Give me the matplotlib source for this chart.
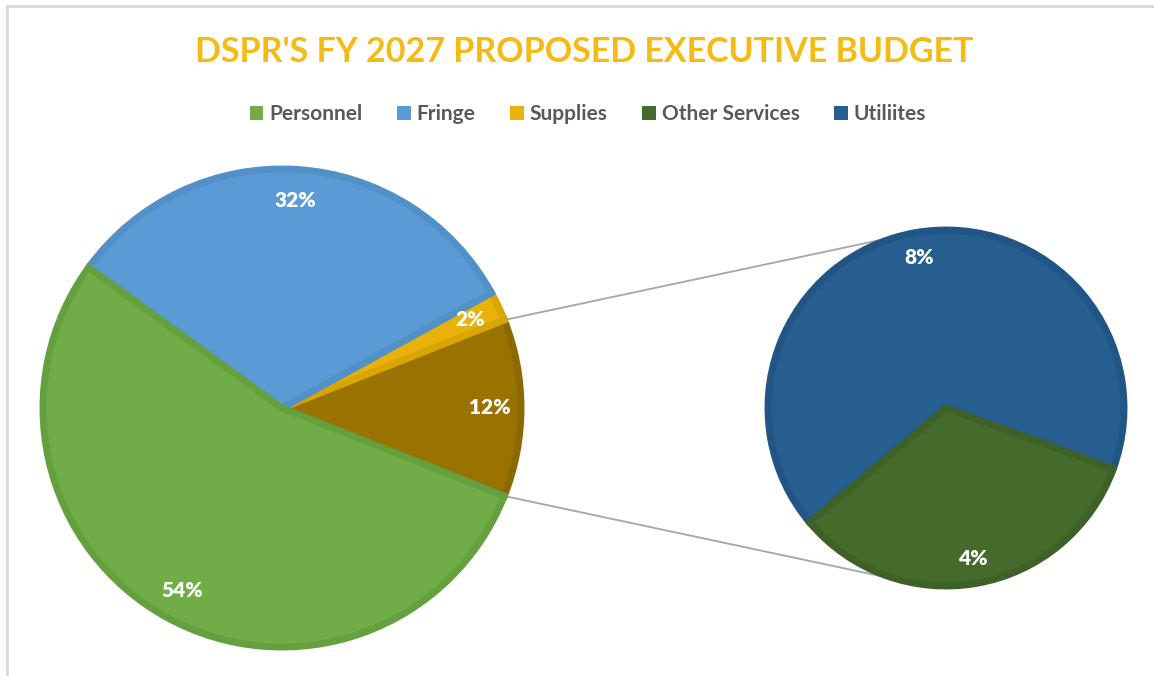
import numpy as np
import matplotlib
matplotlib.use("Agg")
import matplotlib.pyplot as plt
from matplotlib.patches import Patch
from matplotlib.lines import Line2D

# data (percent of total budget)
main_labels = ["Other", "Supplies", "Fringe", "Personnel"]
main_values = [12, 2, 32, 54]
sub_labels = ["Utiliites", "Other Services"]
sub_values = [8, 4]

legend_order = ["Personnel", "Fringe", "Supplies", "Other Services", "Utiliites"]

colors = {
    "Personnel": "#70AD47",
    "Fringe": "#5B9BD5",
    "Supplies": "#E8B20A",
    "Other": "#9A7200",
    "Other Services": "#446B2C",
    "Utiliites": "#255E8F",
}
edges = {
    "Personnel": "#65A03F",
    "Fringe": "#5290C8",
    "Supplies": "#D9A600",
    "Other": "#8C6800",
    "Other Services": "#3D6127",
    "Utiliites": "#215585",
}

plt.rcParams['font.family'] = ['Lato', 'DejaVu Sans']

W, H = 1154, 676
fig = plt.figure(figsize=(W / 100, H / 100), dpi=100)
ax = fig.add_axes([0, 0, 1, 1])

# geometry (in pixels, y measured from bottom)
c_main = (282, H - 408)
r_main = 239
c_sub = (946, H - 408)
r_sub = 178

label_style = dict(color="white", fontsize=15, fontweight="heavy", ha="center", va="center")

# main pie: the "Other" slice centred at 3 o'clock
other_share = main_values[0] / sum(main_values)
start_main = -other_share * 360 / 2
wedges, texts = ax.pie(main_values, center=c_main, radius=r_main,
                       startangle=start_main, counterclock=True,
                       colors=[colors[l] for l in main_labels],
                       labels=[f"{v}%" for v in main_values],
                       labeldistance=0.87,
                       textprops=label_style, frame=True)
for w, l in zip(wedges, main_labels):
    w.set_edgecolor(edges[l])
    w.set_linewidth(5)

# secondary pie (breakdown of "Other")
start_sub = -20
wedges2, texts2 = ax.pie(sub_values, center=c_sub, radius=r_sub,
                         startangle=start_sub, counterclock=True,
                         colors=[colors[l] for l in sub_labels],
                         labels=[f"{v}%" for v in sub_values],
                         labeldistance=0.86,
                         textprops=label_style, frame=True)
for w, l in zip(wedges2, sub_labels):
    w.set_edgecolor(edges[l])
    w.set_linewidth(5)

ax.set_xlim(0, W)
ax.set_ylim(0, H)
ax.set_aspect('equal')
ax.axis('off')


# connector lines: from the edges of the "Other" slice, tangent to the secondary pie
def tangent_point(p, c, r, side):
    d = np.hypot(p[0] - c[0], p[1] - c[1])
    ang = np.arctan2(p[1] - c[1], p[0] - c[0])
    t = ang - side * np.arccos(r / d)
    return c[0] + r * np.cos(t), c[1] + r * np.sin(t)


for edge_ang, side in [(-start_main, 1), (start_main, -1)]:
    a = np.deg2rad(edge_ang)
    p = (c_main[0] + r_main * np.cos(a), c_main[1] + r_main * np.sin(a))
    q = tangent_point(p, c_sub, r_sub, side)
    ax.plot([p[0], q[0]], [p[1], q[1]], color="#A6A6A6", lw=1.3, zorder=0.5)

# title
fig.text(584 / W, (H - 52) / H, "DSPR'S FY 2027 PROPOSED EXECUTIVE BUDGET",
         ha="center", va="center", color="#F5BA13", fontsize=24.5, fontweight="bold")

# legend
handles = [Patch(facecolor=colors[l], edgecolor="none", label=l) for l in legend_order]
leg = fig.legend(handles=handles, loc="center", bbox_to_anchor=(588 / W, (H - 114) / H),
                 ncol=5, frameon=False, fontsize=15, handlelength=0.65, handleheight=0.65,
                 handletextpad=0.3, columnspacing=1.65, labelcolor="#595959")
for t in leg.get_texts():
    t.set_fontweight("bold")

# chart frame (light grey, left/top edges visible)
fig.add_artist(Line2D([7 / W, 1], [(H - 6) / H, (H - 6) / H], color="#D9D9D9", lw=2,
                      transform=fig.transFigure))
fig.add_artist(Line2D([7 / W, 7 / W], [0, (H - 6) / H], color="#D9D9D9", lw=2,
                      transform=fig.transFigure))

fig.savefig("out.png", dpi=100, facecolor="white")
